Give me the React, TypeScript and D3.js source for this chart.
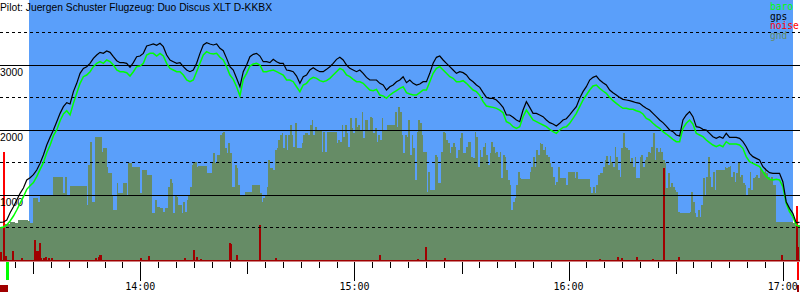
import React from 'react';
import * as d3 from 'd3';

const title = 'Pilot: Juergen Schuster Flugzeug: Duo Discus XLT D-KKBX';
const legendItems = ['baro', 'gps', 'noise', 'gnd'];
const legendColors = ['#00ff00', '#000000', '#ff0000', '#668c66'];
const hourTicks = [60, 120, 180, 240]; // minutes after 13:00
const hourLabels = ['14:00', '15:00', '16:00', '17:00'];
const solidLevels = [1000, 2000, 3000];
const dashedLevels = [500, 1500, 2500, 3500];
const labelLevels = [1000, 2000, 3000];

// sky (flight window) in minutes after 13:00
const skyStart = 28.8;
const skyEnd = 243.0;
const takeoffMin = 22.8;
const landingMin = 244.25;

// track sampled every 0.9333 min from 13:20:43
const trackStart = 20.72;
const trackStep = 0.9333;
const gpsAlt = [
  579,584,615,728,820,923,1026,1108,1231,1266,1313,1384,1487,1615,1769,1887,2000,2128,2256,2359,2420,2400,2590,2718,2872,2948,2974,3026,3102,3154,3195,3179,3215,3195,3128,3066,3036,3036,3026,2964,3036,3128,3138,3179,3292,3308,3323,3302,
  3333,3282,3154,3077,3051,3026,3036,2974,2923,2897,2923,3026,3179,3308,3343,3323,3308,3323,3256,3220,3102,2974,2923,2795,2666,2897,3000,3128,3164,3179,3138,3051,3051,3036,3087,3051,3026,3026,2923,2913,2897,2830,2718,2820,2846,2923,2959,2923,
  2897,2897,2933,2974,3026,3087,3118,3077,3000,2948,2923,2897,2923,2872,2810,2769,2769,2769,2718,2692,2615,2666,2692,2743,2769,2820,2728,2769,2718,2692,2707,2743,2743,2872,3026,3118,3138,3077,3026,2974,2923,2872,2897,2882,2846,2779,2743,2692,
  2656,2574,2502,2487,2487,2461,2410,2348,2231,2231,2195,2154,2128,2307,2436,2348,2256,2256,2231,2205,2154,2113,2092,2061,2103,2154,2174,2231,2297,2359,2487,2590,2666,2769,2810,2830,2769,2728,2692,2615,2574,2538,2502,2472,2461,2451,2436,2420,
  2410,2369,2333,2307,2256,2205,2154,2113,2061,2000,1974,1923,1907,2154,2231,2282,2205,2051,2041,2010,2000,1949,1897,1872,1897,1872,1949,1887,1887,1887,1872,1820,1743,1641,1590,1564,1538,1436,1384,1344,1333,1333,1333,1205,897,795,718,574,579,
];
const baroAlt = [
  497,508,538,600,677,769,872,974,1087,1143,1190,1282,1395,1497,1651,1764,1913,2000,2143,2246,2297,2231,2410,2564,2718,2820,2846,2897,2974,3026,3051,3026,3077,3051,3000,2923,2897,2897,2882,2830,2897,2974,2984,3026,3154,3179,3179,3138,
  3179,3138,3026,2948,2923,2897,2897,2846,2769,2743,2769,2897,3026,3154,3205,3179,3169,3179,3118,3077,2974,2846,2779,2666,2523,2779,2872,2984,3015,3026,3000,2897,2897,2913,2923,2897,2872,2846,2769,2769,2743,2666,2590,2692,2718,2779,2810,2795,
  2759,2743,2759,2795,2846,2897,2948,2923,2846,2820,2779,2743,2743,2718,2666,2615,2605,2625,2538,2523,2487,2538,2574,2605,2641,2666,2574,2554,2538,2538,2574,2615,2615,2743,2872,2948,2974,2923,2872,2820,2795,2743,2743,2759,2718,2666,2615,2590,
  2533,2436,2369,2359,2348,2333,2307,2266,2128,2103,2051,2026,2051,2205,2307,2231,2154,2128,2103,2077,2051,2010,1974,1949,2000,2041,2051,2103,2179,2256,2359,2461,2538,2615,2677,2692,2641,2600,2564,2502,2451,2410,2369,2333,2333,2318,2318,2297,
  2282,2246,2179,2154,2103,2061,2026,1974,1938,1897,1856,1820,1820,2026,2103,2154,2092,1949,1923,1897,1846,1805,1769,1743,1769,1743,1820,1784,1784,1784,1769,1718,1590,1513,1487,1461,1436,1359,1282,1241,1231,1241,1231,1128,872,743,667,538,513,
];

// ground elevation sampled every 0.4667 min from 13:20:43
const gndStart = 20.72;
const gndStep = 0.4667;
const gndAlt = [
  490,490,490,560,560,560,590,590,590,565,565,615,615,615,615,615,615,600,564,564,
  949,949,949,897,1000,1000,1000,1000,1000,1000,1000,1000,1272,1272,1272,1272,1272,1272,1026,1272,
  1000,1000,1138,1138,1138,1138,1138,1138,1138,1138,1138,1138,846,1461,1820,897,897,1897,1897,1897,
  1897,1667,1718,1718,1436,1333,1333,1000,769,769,1179,1026,1026,1026,1179,1179,1000,1487,1487,1436,
  1436,1436,1436,1436,1026,1384,1384,1384,1307,1307,1307,718,718,923,820,820,
  795,795,743,795,795,1128,1241,1179,718,1000,974,846,846,718,897,743,923,1000,1128,1461,
  1513,1513,1436,1446,1446,1446,1446,1446,1333,1333,1333,1487,1651,1487,1615,1615,1923,1949,1974,1718,
  1641,1795,1641,1128,1128,1461,1410,1154,1000,1000,1000,1051,1051,1051,1051,1154,1154,1154,1154,1154,
  1026,897,949,1000,1128,1538,1410,1410,1384,1692,1718,1846,1923,1949,1718,1923,1692,1923,2077,1923,
  1743,2103,1718,1718,1718,1795,1923,1949,1949,1923,2077,2154,1923,2051,2000,2000,
  2000,1667,1974,1667,1974,1974,1974,1974,1974,1974,1795,1846,1820,2077,1897,2077,1949,1743,2179,2026,
  1949,2179,2051,2077,2000,2282,1872,2154,2154,2000,2205,2179,1949,2026,1820,1923,1846,2179,2000,2000,
  2077,2077,2077,2077,2077,2282,2051,2359,2282,1923,1641,1923,1897,2154,1615,1923,1718,1231,1974,2154,
  2103,1923,1667,1667,1051,1359,1077,1077,1077,1615,1590,1179,1179,1667,1974,1949,1846,1795,1641,1743,
  1795,1743,1564,1692,1872,1949,1641,1641,1743,1820,1820,1590,1564,1974,1897,1436,
  1692,1590,1743,1795,1615,1461,1641,1820,1743,1641,1667,1590,1667,1256,1615,1590,1384,1231,1154,769,
  897,949,1154,1359,1256,1241,1241,1241,1241,1241,1359,1436,1590,1436,1692,1615,1795,1785,1692,1743,
  1615,1590,1487,1436,1282,1154,1205,1436,1256,1256,1256,1256,1154,1359,1359,1359,1359,1256,1359,1241,
  1241,1241,1241,1241,1241,1241,1128,1026,1128,1026,1154,1307,1333,1333,1436,1538,1600,1461,1600,1513,
  1436,1743,1590,1384,1282,1718,1949,1743,1718,1692,1513,1564,1436,1590,1256,1256,
  1590,1615,1436,1538,1590,1667,1641,1743,1949,1538,1718,1667,1718,1667,1538,1487,1102,1333,1128,1179,
  1128,1077,1051,743,728,728,728,728,728,728,743,1051,897,718,667,769,667,846,1256,1000,
  1282,1590,1282,1128,1359,1077,1384,1384,1384,1384,1384,1436,1410,1436,1446,1282,1359,1205,1333,1513,
  1282,1307,1179,1154,1000,1102,1359,1077,1256,1282,1307,1256,1436,1384,1359,1410,1333,1282,1231,1282,
  1154,1154,590,590,590,590,590,590,590,590,590,590,564,538,538,538,
];

// engine noise level (0-1000) events: [minutes after 13:00, level]
const noise: [number, number][] = [
  [20.86, 32], [21.7, 415], [22.12, 17], [24.08, 36], [26.74, 9], [30.24, 77], [30.52, 23],
  [30.94, 36], [31.22, 36], [31.64, 67], [31.92, 8], [32.9, 8], [33.32, 12], [34.16, 6],
  [35.0, 6], [47.46, 6], [48.16, 13], [48.44, 18], [48.72, 20], [59.92, 9], [62.3, 17],
  [72.38, 9], [74.9, 38], [75.74, 13], [77.0, 5], [85.12, 67], [85.4, 62], [87.08, 20],
  [93.52, 135], [98.0, 9], [127.12, 19], [137.76, 5], [140.0, 51], [145.32, 6], [188.72, 4],
  [193.62, 13], [194.88, 6], [199.08, 13], [203.56, 5], [206.64, 355], [210.84, 13],
  [239.68, 19], [243.74, 208], [244.16, 51],
];

const BLUE = '#5a9ffa';
const GND = '#668c66';
const DARKRED = '#a00000';
const SANS = '"Liberation Sans", Arial, sans-serif';
const MONO = '"DejaVu Sans Mono", monospace';

export default function App() {
  const x = d3.scaleLinear().domain([60, 240]).range([140.3, 782.7]);
  const y = d3.scaleLinear().domain([0, 4000]).range([260, 0]);
  const yN = d3.scaleLinear().domain([0, 1000]).range([260, 0]);

  const line = d3
    .line<number>()
    .x((_, i) => x(trackStart + i * trackStep))
    .y((d) => y(d));

  const gndPts: [number, number][] = gndAlt.map((v, i) => [gndStart + i * gndStep, v]);
  gndPts.push([gndStart + gndAlt.length * gndStep, gndAlt[gndAlt.length - 1]]);
  const area = d3
    .area<[number, number]>()
    .x((d) => x(d[0]))
    .y0(y(0))
    .y1((d) => y(d[1]))
    .curve(d3.curveStepAfter);
  const gndPath = area(gndPts) || '';

  const ticks = d3.range(25, 241, 5);

  const noiseBars = (fill: string) =>
    noise.map(([t, v], i) => (
      <rect
        key={i}
        x={Math.floor(x(t))}
        width={v > 100 ? 2 : 1.5}
        y={Math.round(yN(v))}
        height={yN(0) - Math.round(yN(v))}
        fill={fill}
      />
    ));

  return (
    <svg
      width={800}
      height={300}
      style={{ position: 'absolute', left: 0, top: 0, background: '#fff' }}
    >
      <defs>
        <clipPath id="gndClip">
          <path d={gndPath} />
        </clipPath>
      </defs>
      <rect
        x={x(skyStart)}
        y={0}
        width={x(skyEnd) - x(skyStart)}
        height={y(0) + 1}
        fill={BLUE}
        shapeRendering="crispEdges"
      />
      <path d={gndPath} fill={GND} shapeRendering="crispEdges" />
      <g shapeRendering="crispEdges">{noiseBars('#ff0000')}</g>
      <g shapeRendering="crispEdges" clipPath="url(#gndClip)">
        {noiseBars(DARKRED)}
      </g>
      <line x1={0} x2={800} y1={y(0) + 0.75} y2={y(0) + 0.75} stroke={DARKRED} strokeWidth={1.5} />
      <g shapeRendering="crispEdges">
        {solidLevels.map((v) => (
          <line key={v} x1={0} x2={800} y1={y(v)} y2={y(v)} stroke="#000" strokeWidth={1} />
        ))}
        {dashedLevels.map((v) => (
          <line
            key={v}
            x1={0}
            x2={800}
            y1={y(v)}
            y2={y(v)}
            stroke="#000"
            strokeWidth={1}
            strokeDasharray="3,3"
          />
        ))}
      </g>
      {labelLevels.map((v) => (
        <text key={v} x={0} y={y(v) + 11} fontFamily={SANS} fontSize={10.3} fill="#000">
          {v}
        </text>
      ))}
      <path d={line(baroAlt) || ''} fill="none" stroke="#00ff00" strokeWidth={1.5} />
      <path d={line(gpsAlt) || ''} fill="none" stroke="#000" strokeWidth={1.2} />
      <text x={0} y={10.5} fontFamily={SANS} fontSize={10.3} fill="#000">
        {title}
      </text>
      {legendItems.map((s, i) => (
        <text key={s} x={770} y={10 + i * 9.7} fontFamily={MONO} fontSize={9.6} fill={legendColors[i]}>
          {s}
        </text>
      ))}
      <g shapeRendering="crispEdges">
        {ticks.map((t) => {
          const len = t % 60 === 0 ? 19 : t % 30 === 0 ? 12 : 6;
          const px = Math.round(x(t)) + 0.5;
          return <line key={t} x1={px} x2={px} y1={261.5} y2={261.5 + len} stroke="#000" strokeWidth={1} />;
        })}
        <rect x={x(takeoffMin) - 1.5} y={262} width={3} height={18} fill="#00ff00" />
        <rect x={0} y={285} width={8} height={7} fill={DARKRED} />
        <rect x={x(landingMin) - 1.25} y={262} width={2.5} height={18} fill="#ff0000" />
        <rect x={x(landingMin) - 1.25} y={285} width={2.5} height={7} fill={DARKRED} />
      </g>
      {hourTicks.map((t, i) => (
        <text key={t} x={x(t)} y={290} textAnchor="middle" fontFamily={MONO} fontSize={10} fill="#000">
          {hourLabels[i]}
        </text>
      ))}
    </svg>
  );
}
